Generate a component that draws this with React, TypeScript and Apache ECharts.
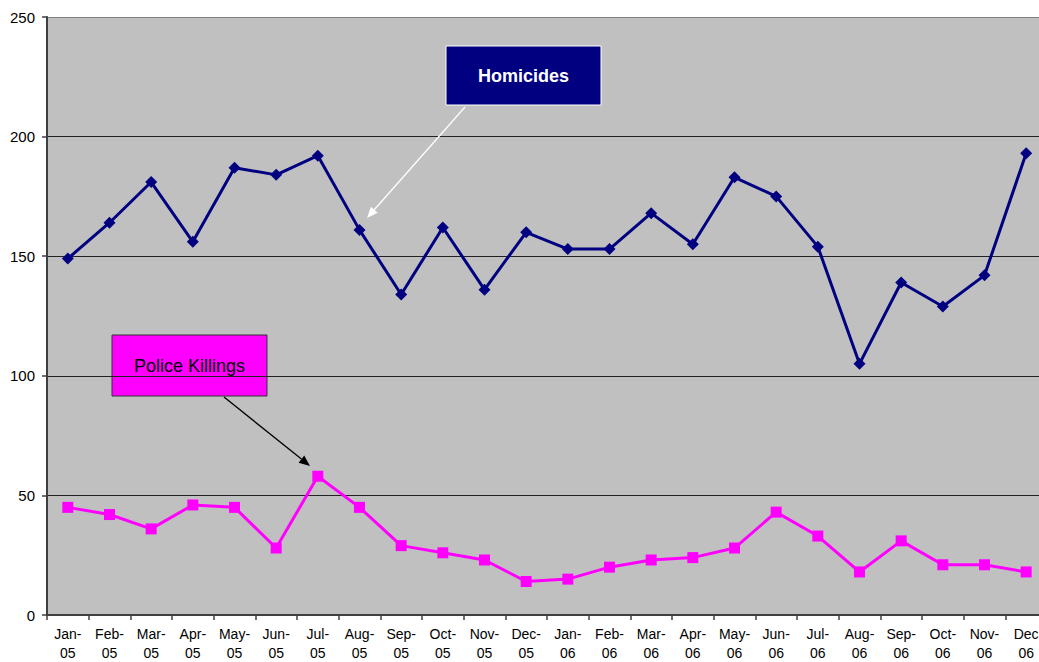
import React, { useEffect, useRef } from "react";
import * as echarts from "echarts";

const months = ["Jan-", "Feb-", "Mar-", "Apr-", "May-", "Jun-", "Jul-", "Aug-", "Sep-", "Oct-", "Nov-", "Dec-"];
const categories: string[] = [
  ...months.map((m) => m + "\n05"),
  ...months.map((m, i) => (i === 11 ? "Dec\n06" : m + "\n06")),
];
const homicides = [149, 164, 181, 156, 187, 184, 192, 161, 134, 162, 136, 160, 153, 153, 168, 155, 183, 175, 154, 105, 139, 129, 142, 193];
const policeKillings = [45, 42, 36, 46, 45, 28, 58, 45, 29, 26, 23, 14, 15, 20, 23, 24, 28, 43, 33, 18, 31, 21, 21, 18];
const yTicks = { min: 0, max: 250, interval: 50 };

function arrow(x1: number, y1: number, x2: number, y2: number, color: string) {
  const dx = x2 - x1, dy = y2 - y1;
  const len = Math.sqrt(dx * dx + dy * dy);
  const ux = dx / len, uy = dy / len;
  const hl = 11, hw = 4.5;
  const bx = x2 - ux * hl, by = y2 - uy * hl;
  return [
    { type: "line", shape: { x1, y1, x2: bx, y2: by }, style: { stroke: color, lineWidth: 1.3 }, z: 100 },
    {
      type: "polygon",
      shape: { points: [[x2, y2], [bx - uy * hw, by + ux * hw], [bx + uy * hw, by - ux * hw]] },
      style: { fill: color },
      z: 100,
    },
  ];
}

export default function App() {
  const ref = useRef<HTMLDivElement>(null);
  useEffect(() => {
    document.body.style.margin = "0";
    const chart = echarts.init(ref.current!, null, { renderer: "svg" });
    chart.setOption({
      animation: false,
      backgroundColor: "#ffffff",
      grid: {
        left: 47,
        top: 17,
        width: 1000,
        height: 598,
        outerBoundsMode: "none",
        containLabel: false,
        show: true,
        backgroundColor: "#c0c0c0",
        borderWidth: 0,
      },
      xAxis: {
        type: "category",
        data: categories,
        boundaryGap: true,
        axisLine: { lineStyle: { color: "#404040", width: 2 } },
        axisTick: { show: true, length: 5, lineStyle: { color: "#404040", width: 1.5 } },
        axisLabel: {
          color: "#000",
          fontFamily: "Liberation Sans, Arial, sans-serif",
          fontSize: 14,
          lineHeight: 18.5,
          margin: 10,
          interval: 0,
        },
      },
      yAxis: {
        type: "value",
        ...yTicks,
        axisLine: { show: true, lineStyle: { color: "#404040", width: 2 } },
        axisTick: { show: true, length: 5, lineStyle: { color: "#404040", width: 1.5 } },
        axisLabel: {
          color: "#000",
          fontFamily: "Liberation Sans, Arial, sans-serif",
          fontSize: 15,
          margin: 12,
        },
        splitLine: {
          show: true,
          lineStyle: { color: ["#000", "#222", "#222", "#222", "#222", "#808080"], width: 1 },
        },
      },
      series: [
        {
          name: "Homicides",
          type: "line",
          data: homicides,
          symbol: "diamond",
          symbolSize: 12,
          lineStyle: { color: "#000080", width: 3 },
          itemStyle: { color: "#000080" },
          z: 3,
        },
        {
          name: "Police Killings",
          type: "line",
          data: policeKillings,
          symbol: "rect",
          symbolSize: 11,
          lineStyle: { color: "#ff00ff", width: 3 },
          itemStyle: { color: "#ff00ff" },
          z: 3,
        },
      ],
      graphic: [
        ...arrow(465, 107, 367, 218, "#ffffff"),
        ...arrow(224, 397, 310, 466, "#000000"),
        {
          type: "group",
          z: 110,
          children: [
            {
              type: "rect",
              shape: { x: 446, y: 46, width: 155, height: 59 },
              style: { fill: "#000080", stroke: "#ffffff", lineWidth: 1 },
            },
            {
              type: "text",
              x: 523.5,
              y: 75.5,
              style: {
                text: "Homicides",
                fill: "#ffffff",
                font: "bold 18px Liberation Sans, Arial, sans-serif",
                align: "center",
                verticalAlign: "middle",
              },
            },
            {
              type: "rect",
              shape: { x: 112, y: 335, width: 155, height: 61 },
              style: { fill: "#ff00ff", stroke: "#333333", lineWidth: 1 },
            },
            {
              type: "text",
              x: 189.5,
              y: 365.5,
              style: {
                text: "Police Killings",
                fill: "#000000",
                font: "18px Liberation Sans, Arial, sans-serif",
                align: "center",
                verticalAlign: "middle",
              },
            },
          ],
        },
      ],
    });
    return () => chart.dispose();
  }, []);
  return <div ref={ref} style={{ width: 1039, height: 662 }} />;
}
